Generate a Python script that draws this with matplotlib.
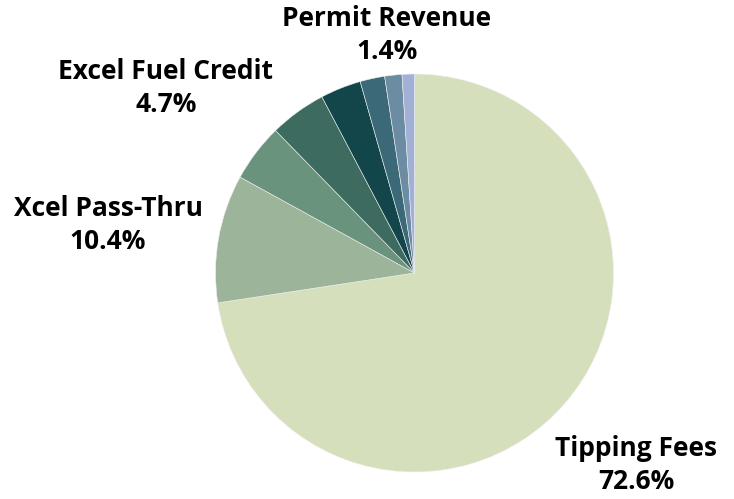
import numpy as np
from matplotlib import pyplot as plt

plt.rcParams.update({"font.family": ["Open Sans", "DejaVu Sans"], "font.weight": "bold"})

# revenue shares, clockwise from 12 o'clock
categories = ["Tipping Fees", "Xcel Pass-Thru", "Excel Fuel Credit", "Other 1",
              "Other 2", "Other 3", "Permit Revenue", "Other 4"]
shares = [72.6, 10.4, 4.7, 4.6, 3.3, 2.0, 1.4, 1.0]
labelled = ["Tipping Fees", "Xcel Pass-Thru", "Excel Fuel Credit", "Permit Revenue"]

colors = ["#d6dfbb", "#9cb59a", "#6a937d", "#3d6b5f",
          "#13464a", "#3c6978", "#6b8ca3", "#a3b0d6"]

W, H = 734, 499
fig = plt.figure(figsize=(W / 100, H / 100), dpi=100)
ax = fig.add_axes([0, 0, 1, 1])

cx, cy, r = 414.5, H - 273, 199
ax.pie(shares, colors=colors, startangle=90, counterclock=False,
       center=(cx, cy), radius=r, frame=True,
       wedgeprops=dict(edgecolor="#eef0f0", linewidth=0.4))
ax.set_xlim(0, W)
ax.set_ylim(0, H)
ax.set_aspect("equal")
ax.axis("off")

# label anchor points (pixels from top-left)
label_pos = {"Tipping Fees": (636, 465), "Xcel Pass-Thru": (108, 225),
             "Excel Fuel Credit": (166, 88), "Permit Revenue": (387, 35)}
for name in labelled:
    x, y = label_pos[name]
    val = shares[categories.index(name)]
    ax.text(x, H - y, f"{name}\n{val:.1f}%", ha="center", va="center",
            fontsize=19, fontweight="bold", linespacing=1.3, color="black")

fig.savefig("out.png", dpi=100)
